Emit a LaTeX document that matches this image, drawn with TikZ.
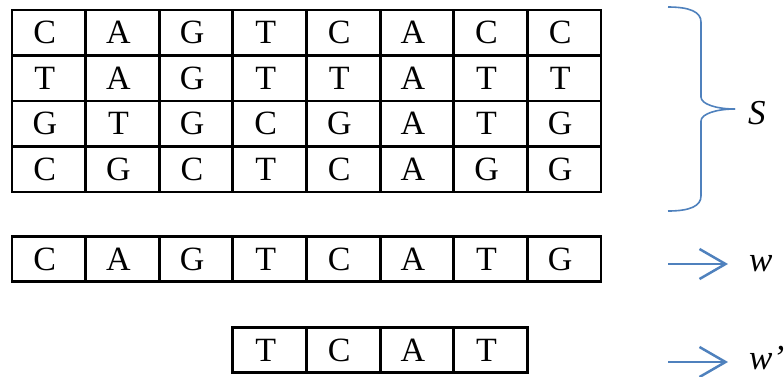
\documentclass[tikz,border=0pt]{standalone}
\usepackage{fontspec}
\setmainfont{Liberation Serif}
\usetikzlibrary{arrows.meta}
\definecolor{bl}{HTML}{4F81BD}
\begin{document}
\begin{tikzpicture}[x=1pt,y=-1pt,
  cell/.style={draw, line width=2.8pt, minimum width=73.625pt, minimum height=45.5pt,
    inner sep=0pt, font=\fontsize{34}{34}\selectfont, anchor=center,
    execute at begin node={\hspace*{-8pt}}},
  lab/.style={font=\fontsize{35}{35}\selectfont\itshape, inner sep=0pt, anchor=west},
  barrow/.style={draw=bl, line width=2.5pt,
    -{Straight Barb[length=26pt,width=30pt,line width=2.5pt]}},
  bracepath/.style={draw=bl, line width=1.6pt}]
\useasboundingbox (0,0) rectangle (784,376);
% matrix S
\foreach \r/\row in {1/{C,A,G,T,C,A,C,C},2/{T,A,G,T,T,A,T,T},3/{G,T,G,C,G,A,T,G},4/{C,G,C,T,C,A,G,G}}{
  \foreach \l [count=\c] in \row {
    \node[cell] (s\r\c) at ({12+73.625*(\c-0.5)},{10+45.5*(\r-0.5)}) {\l};
  }
}
% w
\foreach \l [count=\c] in {C,A,G,T,C,A,T,G}{
  \node[cell] (w\c) at ({12+73.625*(\c-0.5)},259) {\l};
}
% w'
\foreach \l [count=\c from 4] in {T,C,A,T}{
  \node[cell] (v\c) at ({12+73.625*(\c-0.5)},350) {\l};
}
% labels
\node[lab] (S) at (748,113) {S};
\node[lab] (W) at (749,264) {w};
\node[lab] (W2) at (749,358) {w'};
% brace
\coordinate (bt) at (668,7);
\coordinate (bm) at (735,109);
\coordinate (bb) at (668,211);
\draw[bracepath] (bt) .. controls (690,7) and (701,12) .. (701,22) -- (701,97)
  .. controls (701,104) and (716,109) .. (bm);
\draw[bracepath] (bm) .. controls (716,109) and (701,114) .. (701,121) -- (701,196)
  .. controls (701,206) and (690,211) .. (bb);
% arrows
\coordinate (a1) at (668,264);
\coordinate (a2) at (728,264);
\coordinate (b1) at (668,362);
\coordinate (b2) at (728,362);
\draw[barrow] (a1) -- (a2);
\draw[barrow] (b1) -- (b2);
\end{tikzpicture}
\end{document}
